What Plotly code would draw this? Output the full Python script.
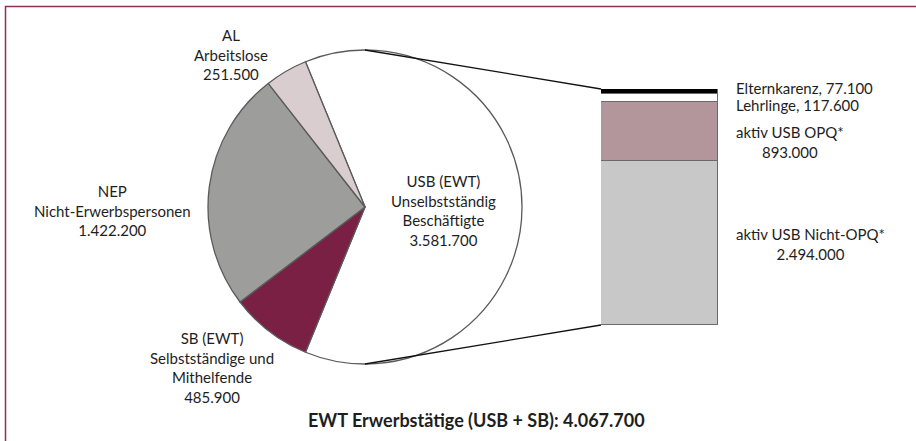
import plotly.graph_objects as go

# ---- data ----
pie_labels = ["USB (EWT)<br>Unselbstständig<br>Beschäftigte", "SB (EWT)<br>Selbstständige und<br>Mithelfende",
              "NEP<br>Nicht-Erwerbspersonen", "AL<br>Arbeitslose"]
pie_values = [3581700, 485900, 1422200, 251500]
pie_colors = ["#ffffff", "#7b2045", "#9d9d9b", "#d9cdd0"]

bar_labels = ["aktiv USB Nicht-OPQ*", "aktiv USB OPQ*", "Lehrlinge", "Elternkarenz"]
bar_values = [2494000, 893000, 117600, 77100]
bar_colors = ["#c8c8c8", "#b3969b", "#ffffff", "#000000"]

title_text = "EWT Erwerbstätige (USB + SB): 4.067.700"

def fmt(v):
    return f"{v:,}".replace(",", ".")

W, H = 916, 441
FONT = "Lato"
TXT = "#1e1e1e"
FS = 15

# geometry (pixels -> paper)
cx, cy, R = 365, 207, 157
pie_dom_x = [(cx - R) / W, (cx + R) / W]
pie_dom_y = [1 - (cy + R) / H, 1 - (cy - R) / H]
bar_x = [601 / W, 718 / W]
bar_y = [1 - 325 / H, 1 - 89 / H]

total = sum(pie_values)
rot = -(pie_values[0] / total * 180 - 90)

fig = go.Figure()
fig.add_trace(go.Pie(
    labels=pie_labels, values=pie_values, sort=False, direction="clockwise",
    rotation=rot, marker=dict(colors=pie_colors, line=dict(color="#5a5a5a", width=1.3)),
    textinfo="none", hoverinfo="label+value", showlegend=False,
    domain=dict(x=pie_dom_x, y=pie_dom_y)))

for lab, val, col in zip(bar_labels, bar_values, bar_colors):
    fig.add_trace(go.Bar(x=[0], y=[val], name=lab, marker=dict(color=col, line=dict(color="#6a6a6a", width=1.2)),
                         width=1, showlegend=False, hoverinfo="name+y"))

usb_total = sum(bar_values)
fig.update_layout(
    width=W, height=H, margin=dict(l=0, r=0, t=0, b=0),
    paper_bgcolor="white", plot_bgcolor="rgba(0,0,0,0)",
    barmode="stack", bargap=0,
    font=dict(family=FONT, size=FS, color=TXT),
    xaxis=dict(domain=bar_x, range=[-0.5, 0.5], visible=False, fixedrange=True),
    yaxis=dict(domain=bar_y, range=[0, usb_total], visible=False, fixedrange=True),
)

# connector lines: pie top/bottom -> bar corners
fig.add_shape(type="line", xref="paper", yref="paper",
              x0=cx / W, y0=pie_dom_y[1], x1=bar_x[0], y1=bar_y[1], line=dict(color="#111", width=1.3))
fig.add_shape(type="line", xref="paper", yref="paper",
              x0=cx / W, y0=pie_dom_y[0], x1=bar_x[0], y1=bar_y[0], line=dict(color="#111", width=1.3))
# border
fig.add_shape(type="rect", xref="paper", yref="paper", x0=5.5 / W, x1=1.05, y0=-0.05, y1=1 - 6.5 / H,
              line=dict(color="#8a3556", width=1.5), layer="below")

def ann(x, y, text, align="center", xanchor="center", size=FS):
    fig.add_annotation(x=x / W, y=1 - y / H, xref="paper", yref="paper", text=text, showarrow=False,
                       align=align, xanchor=xanchor, yanchor="middle",
                       font=dict(family=FONT, size=size, color=TXT))

# pie labels
ann(443, 210, pie_labels[0] + "<br>" + fmt(pie_values[0]))
ann(212, 367, pie_labels[1] + "<br>" + fmt(pie_values[1]))
ann(112, 210, pie_labels[2] + "<br>" + fmt(pie_values[2]))
ann(231, 55, pie_labels[3] + "<br>" + fmt(pie_values[3]))

# bar labels
ann(734, 88, f"{bar_labels[3]}, {fmt(bar_values[3])}", align="left", xanchor="left")
ann(734, 105, f"{bar_labels[2]}, {fmt(bar_values[2])}", align="left", xanchor="left")
ann(734, 142, f"{bar_labels[1]}<br>{fmt(bar_values[1])}", xanchor="left")
ann(734, 244, f"{bar_labels[0]}<br>{fmt(bar_values[0])}", xanchor="left")

fig.add_annotation(x=477 / W, y=1 - 420 / H, xref="paper", yref="paper", text=f"<b>{title_text}</b>",
                   showarrow=False, xanchor="center", yanchor="middle",
                   font=dict(family=FONT, size=18, color=TXT))

fig.write_html("out.html", config={"displayModeBar": False},
               post_script="document.body.style.margin='0';")
